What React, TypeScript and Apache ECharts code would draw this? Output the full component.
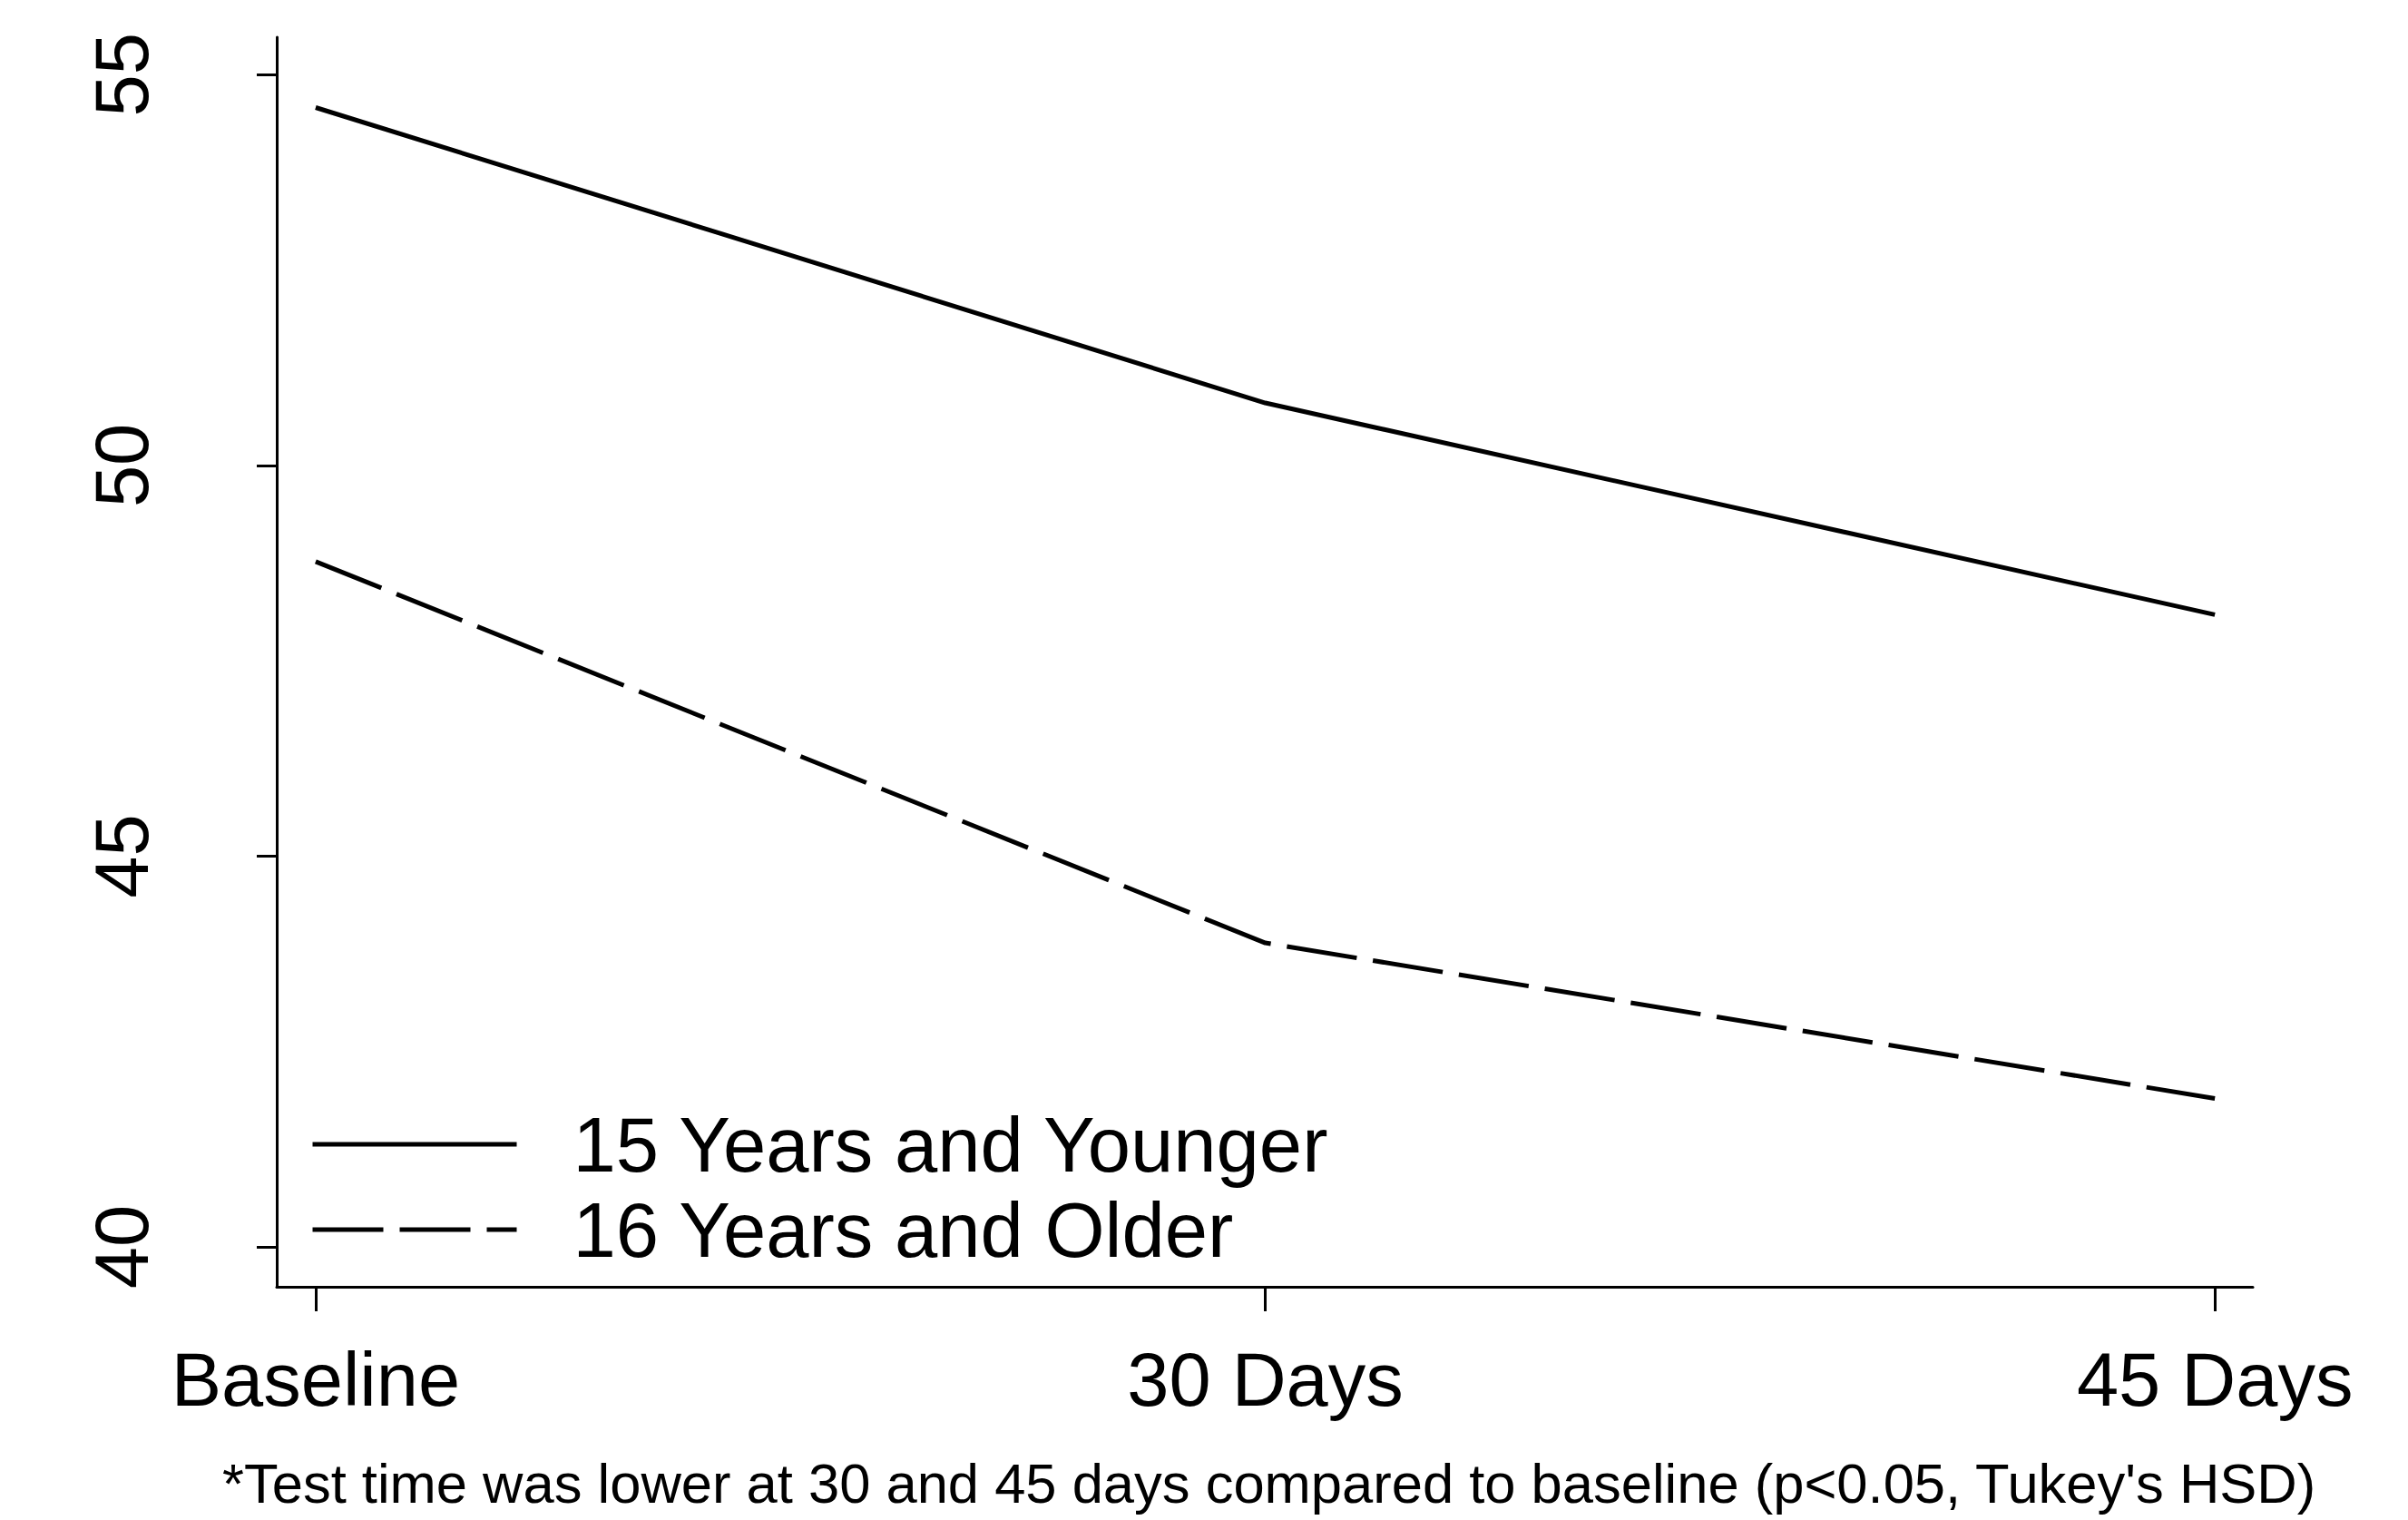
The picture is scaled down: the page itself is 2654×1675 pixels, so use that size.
import React, { useEffect, useRef } from "react";
import * as echarts from "echarts";

const categories = ["Baseline", "30 Days", "45 Days"];
const categoryPositions = [0, 1, 2];
const youngerName = "15 Years and Younger";
const olderName = "16 Years and Older";
const youngerValues = [54.58, 50.8, 48.09];
const olderValues = [48.77, 43.89, 41.9];
const yTicks = [40, 45, 50, 55];
const footnote =
  "*Test time was lower at 30 and 45 days compared to baseline (p<0.05, Tukey's HSD)";

const FONT = "'Liberation Sans', Arial, sans-serif";

export default function App() {
  const ref = useRef<HTMLDivElement>(null);

  useEffect(() => {
    if (!ref.current) return;
    const chart = echarts.init(ref.current, null, { renderer: "svg" });
    const toPairs = (vals: number[]) => categoryPositions.map((p, i) => [p, vals[i]]);
    chart.setOption({
      animation: false,
      backgroundColor: "#ffffff",
      title: {
        text: footnote,
        left: 245,
        top: 1603,
        padding: 0,
        textStyle: { fontSize: 61.5, fontWeight: "normal", color: "#000", fontFamily: FONT },
      },
      legend: {
        orient: "vertical",
        left: 342,
        top: 1214,
        padding: 0,
        itemGap: 0,
        itemWidth: 225,
        itemHeight: 2,
        data: [youngerName, olderName],
        itemStyle: { opacity: 0 },
        lineStyle: { width: 5, color: "#000" },
        textStyle: {
          fontSize: 85,
          color: "#000",
          fontFamily: FONT,
          lineHeight: 94,
          padding: [0, 0, 0, 57],
        },
      },
      grid: {
        left: 305,
        right: 171,
        top: 41,
        bottom: 257,
        containLabel: false,
        outerBoundsMode: "none",
      },
      xAxis: {
        type: "value",
        min: -0.041,
        max: 2.04,
        splitLine: { show: false },
        axisLine: { show: true, onZero: false, lineStyle: { color: "#000", width: 3 } },
        axisTick: {
          show: true,
          customValues: categoryPositions,
          length: 27,
          lineStyle: { color: "#000", width: 3 },
        },
        axisLabel: {
          customValues: categoryPositions,
          formatter: (v: number) => categories[Math.round(v)] ?? "",
          fontSize: 83,
          color: "#000",
          fontFamily: FONT,
          margin: 61,
        },
      },
      yAxis: {
        type: "value",
        min: 39.49,
        max: 55.48,
        splitLine: { show: false },
        axisLine: { show: true, onZero: false, lineStyle: { color: "#000", width: 3 } },
        axisTick: {
          show: true,
          customValues: yTicks,
          length: 22,
          lineStyle: { color: "#000", width: 3 },
        },
        axisLabel: {
          customValues: yTicks,
          formatter: (v: number) => String(v),
          rotate: 90,
          fontSize: 83,
          color: "#000",
          fontFamily: FONT,
          margin: 129,
        },
      },
      series: [
        {
          name: youngerName,
          type: "line",
          symbol: "none",
          data: toPairs(youngerValues),
          lineStyle: { color: "#000", width: 5, type: "solid", cap: "butt" },
          itemStyle: { color: "#000" },
        },
        {
          name: olderName,
          type: "line",
          symbol: "none",
          data: toPairs(olderValues),
          lineStyle: { color: "#000", width: 5, type: [78, 18], cap: "butt" },
          itemStyle: { color: "#000" },
        },
      ],
    });
    return () => chart.dispose();
  }, []);

  return (
    <div
      ref={ref}
      style={{ position: "absolute", left: 0, top: 0, width: 2654, height: 1675, background: "#fff" }}
    />
  );
}
